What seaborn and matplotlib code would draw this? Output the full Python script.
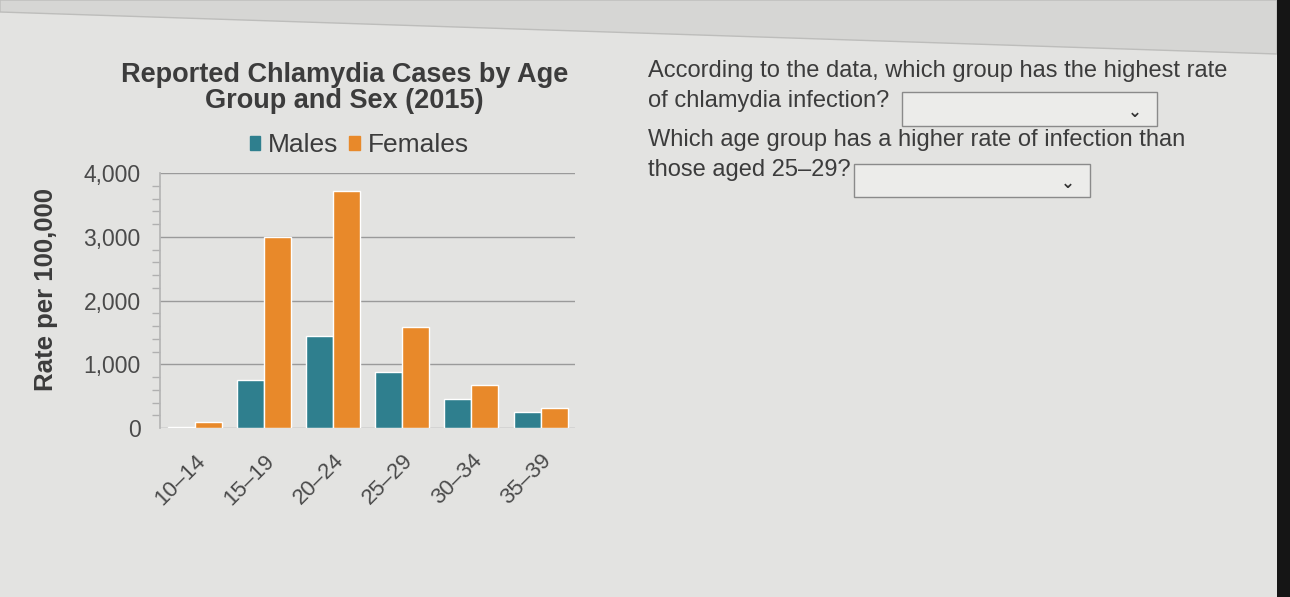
import matplotlib
matplotlib.use("Agg")
import matplotlib.pyplot as plt
import seaborn as sns
import pandas as pd
from matplotlib.patches import Rectangle, Polygon
from matplotlib.ticker import MultipleLocator, FuncFormatter

age_groups = ["10–14", "15–19", "20–24", "25–29", "30–34", "35–39"]
males = [20, 760, 1440, 880, 450, 245]
females = [90, 2995, 3720, 1590, 670, 310]
series_names = ["Males", "Females"]

df = pd.DataFrame({
    "Age": age_groups * 2,
    "Rate": males + females,
    "Sex": [series_names[0]] * len(age_groups) + [series_names[1]] * len(age_groups),
})

sns.set_theme(style="white")
plt.rcParams['font.family'] = ['Liberation Sans', 'DejaVu Sans']

bg = "#e3e3e1"
W, H = 1290, 597
fig = plt.figure(figsize=(12.9, 5.97), dpi=100, facecolor=bg)

# screen edge decorations (photo of a monitor)
fig.patches.append(Polygon([(0, 1), (0, 1 - 12 / H), (1277 / W, 1 - 54 / H), (1277 / W, 1)],
                           closed=True, transform=fig.transFigure,
                           facecolor="#d6d6d4", edgecolor="#bdbdbb", linewidth=1.0))
fig.patches.append(Rectangle((1277 / W, 0), 13 / W, 1, transform=fig.transFigure,
                             facecolor="#151515", edgecolor="none"))

ax = fig.add_axes([0.124, 0.283, 0.322, 0.427], facecolor=bg)

palette = {"Males": "#2f7f8e", "Females": "#e8892a"}
sns.barplot(data=df, x="Age", y="Rate", hue="Sex", palette=palette, ax=ax,
            width=0.78, saturation=1, legend=False)

txt = "#3c3c3c"
ax.set_ylim(0, 4000)
ax.yaxis.set_major_locator(MultipleLocator(1000))
ax.yaxis.set_minor_locator(MultipleLocator(200))
ax.yaxis.set_major_formatter(FuncFormatter(lambda v, p: f"{int(v):,}"))
ax.grid(axis="y", which="major", color="#9a9a9a", linewidth=1.0)
ax.set_axisbelow(True)
for s in ["top", "right", "bottom"]:
    ax.spines[s].set_visible(False)
ax.spines["left"].set_color("#b5b5b5")
ax.tick_params(axis="y", which="major", length=0, labelsize=16.5, colors="#4a4a4a", pad=14)
ax.tick_params(axis="y", which="minor", length=6, color="#b0b0b0", left=True)
ax.tick_params(axis="x", length=0, labelsize=16, colors="#4a4a4a", pad=16)
for lab in ax.get_xticklabels():
    lab.set_rotation(45)
    lab.set_ha("right")
    lab.set_rotation_mode("anchor")
ax.set_xlabel("")
ax.set_ylabel("Rate per 100,000", fontsize=18.5, fontweight="bold", color=txt)
ax.yaxis.set_label_coords(-0.245, 0.545)

handles = [Rectangle((0, 0), 1, 1, color=palette[n]) for n in series_names]
ax.legend(handles, series_names, ncol=2, loc="lower center", bbox_to_anchor=(0.48, 1.0),
          frameon=False, fontsize=19, handlelength=0.4, handleheight=0.4,
          handletextpad=0.3, columnspacing=0.4, labelcolor=txt, borderaxespad=0.2)

fig.text(0.267, 1 - 88 / H, "Reported Chlamydia Cases by Age\nGroup and Sex (2015)",
         ha="center", va="center", fontsize=19.5, fontweight="bold", color=txt,
         linespacing=0.98)

qx = 648 / W
def ytxt(py):
    return 1 - py / H
qfs = 17
fig.text(qx, ytxt(71), "According to the data, which group has the highest rate",
         fontsize=qfs, color=txt, va="center")
fig.text(qx, ytxt(101), "of chlamydia infection?", fontsize=qfs, color=txt, va="center")
fig.text(qx, ytxt(140), "Which age group has a higher rate of infection than",
         fontsize=qfs, color=txt, va="center")
fig.text(qx, ytxt(170), "those aged 25–29?", fontsize=qfs, color=txt, va="center")

def box(x0, y0, x1, y1):
    fig.patches.append(Rectangle((x0 / W, 1 - y1 / H), (x1 - x0) / W, (y1 - y0) / H,
                                 transform=fig.transFigure, facecolor="#ececea",
                                 edgecolor="#8a8a8a", linewidth=1.0))
    fig.text((x1 - 22) / W, 1 - ((y0 + y1) / 2 + 3) / H, "⌄", fontsize=12,
             ha="center", va="center", color="#333333", family="DejaVu Sans",
             fontweight="bold")

box(902, 92, 1157, 126)
box(854, 164, 1090, 197)

fig.savefig("out.png", dpi=100, facecolor=bg)
